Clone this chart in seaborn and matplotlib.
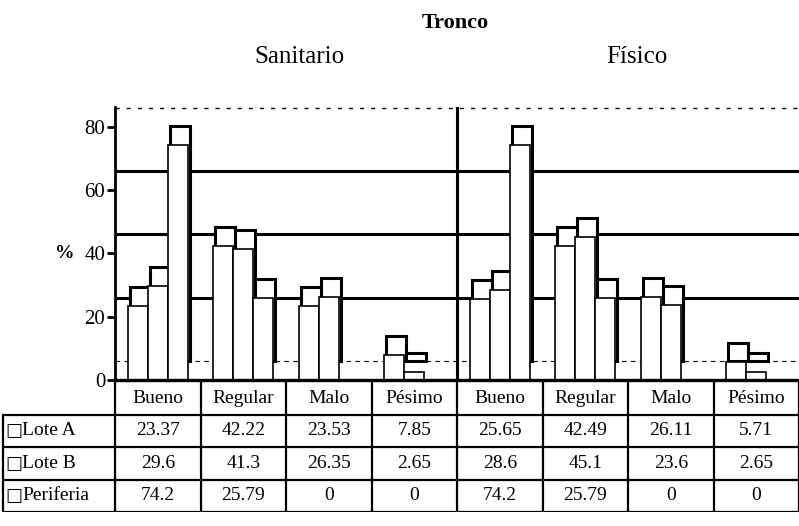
import numpy as np
import pandas as pd
import matplotlib
matplotlib.use("Agg")
import matplotlib.pyplot as plt
from matplotlib.patches import Polygon
import matplotlib.transforms as mtransforms
import seaborn as sns

# ---- data ----
groups = ["Sanitario", "Físico"]
categories = ["Bueno", "Regular", "Malo", "Pésimo"]
series = ["Lote A", "Lote B", "Periferia"]
lote_a = [23.37, 42.22, 23.53, 7.85, 25.65, 42.49, 26.11, 5.71]
lote_b = [29.6, 41.3, 26.35, 2.65, 28.6, 45.1, 23.6, 2.65]
periferia = [74.2, 25.79, 0, 0, 74.2, 25.79, 0, 0]
y_ticks = [0, 20, 40, 60, 80]
title = "Tronco"

sns.set_theme(style="white")
plt.rcParams["font.family"] = ["Liberation Serif", "DejaVu Sans"]
for k in ["text.color", "axes.labelcolor", "xtick.color", "ytick.color", "axes.edgecolor"]:
    plt.rcParams[k] = "black"

slots = [f"{g}-{c}" for g in groups for c in categories]
col_labels = [c for g in groups for c in categories]
values = {"Lote A": lote_a, "Lote B": lote_b, "Periferia": periferia}
rows = []
for s in series:
    for slot, v in zip(slots, values[s]):
        rows.append({"slot": slot, "serie": s, "valor": v})
df = pd.DataFrame(rows)

fig = plt.figure(figsize=(7.99, 5.26), dpi=100)
ax = fig.add_axes([115 / 799, 146 / 526, 684 / 799, 273 / 526])

sns.barplot(data=df, x="slot", y="valor", hue="serie", order=slots,
            hue_order=series, palette=["white"] * 3, edgecolor="black",
            linewidth=1.2, width=0.7, legend=False, ax=ax, zorder=3)

# 3D look: back face of every bar, shifted up/right by the depth
depth = 6
dx = 0.025
for p in list(ax.patches):
    h = p.get_height()
    if h <= 0:
        continue
    x0 = p.get_x()
    w = p.get_width()
    back = Polygon([(x0 + dx, depth), (x0 + dx, h + depth), (x0 + w + dx, h + depth),
                    (x0 + w + dx, depth)], closed=True, facecolor="white",
                   edgecolor="black", lw=2.2, zorder=2.5)
    ax.add_patch(back)

ax.set_xlim(-0.5, len(slots) - 0.5)
ax.set_ylim(0, 86.3)
ax.set_yticks(y_ticks)
ax.set_yticklabels([str(t) for t in y_ticks], fontsize=15)
ax.set_xticks([])
ax.set_xlabel("")
ax.set_ylabel("")
trans = mtransforms.blended_transform_factory(ax.transAxes, ax.transData)
ax.text(-0.074, 40, "%", transform=trans, ha="center", va="center",
        fontsize=14, fontweight="bold")
for side in ["top", "right"]:
    ax.spines[side].set_visible(False)
ax.spines["left"].set_linewidth(2)
ax.spines["bottom"].set_linewidth(2.4)
ax.spines["bottom"].set_zorder(5)
ax.tick_params(axis="y", direction="out", length=6, width=2, left=True, pad=1)

# back-wall grid lines (3D depth offset of the original)
for t in y_ticks[1:-1]:
    ax.axhline(t + depth, color="black", lw=2.2, zorder=1)
ax.axhline(86.3 - 0.3, color="black", lw=1, ls=(0, (3, 5)), zorder=1)
ax.axhline(depth, color="black", lw=0.8, ls=(0, (4, 4)), zorder=1)
ax.axvline(len(categories) - 0.5, color="black", lw=2.2, zorder=2)

# titles
fig.text(455 / 799, 1 - 23 / 526, title, ha="center", va="center",
         fontsize=16, fontweight="bold")
fig.text(299 / 799, 1 - 57 / 526, groups[0], ha="center", va="center", fontsize=18)
fig.text(637 / 799, 1 - 57 / 526, groups[1], ha="center", va="center", fontsize=18)

# data table
tax = fig.add_axes([0, 14 / 526, 1, 130 / 526])
x_min = -0.5 - 115 / (684 / len(slots))
x_left = x_min + 0.03
tax.set_xlim(x_min, len(slots) - 0.5)
tax.set_ylim(4, 0)
tax.axis("off")
lw = 1.6
fs = 14
for i in range(len(slots) + 1):
    tax.plot([i - 0.5, i - 0.5], [0, 4], color="black", lw=lw)
tax.plot([x_left, x_left], [1, 4], color="black", lw=lw)
for r in range(1, 5):
    tax.plot([x_left, len(slots) - 0.5], [r, r], color="black", lw=lw)
for i, lab in enumerate(col_labels):
    tax.text(i, 0.5, lab, ha="center", va="center", fontsize=fs)
table_rows = [lote_a, lote_b, periferia]
for r, (name, vals) in enumerate(zip(series, table_rows), start=1):
    tax.text(x_left + 0.03, r + 0.52, "□", ha="left", va="center", fontsize=13,
             fontweight="bold", family="DejaVu Sans")
    tax.text(x_left + 0.23, r + 0.5, name, ha="left", va="center", fontsize=fs)
    for i, v in enumerate(vals):
        tax.text(i, r + 0.5, f"{v:g}", ha="center", va="center", fontsize=fs)

fig.savefig("out.png", dpi=100)
